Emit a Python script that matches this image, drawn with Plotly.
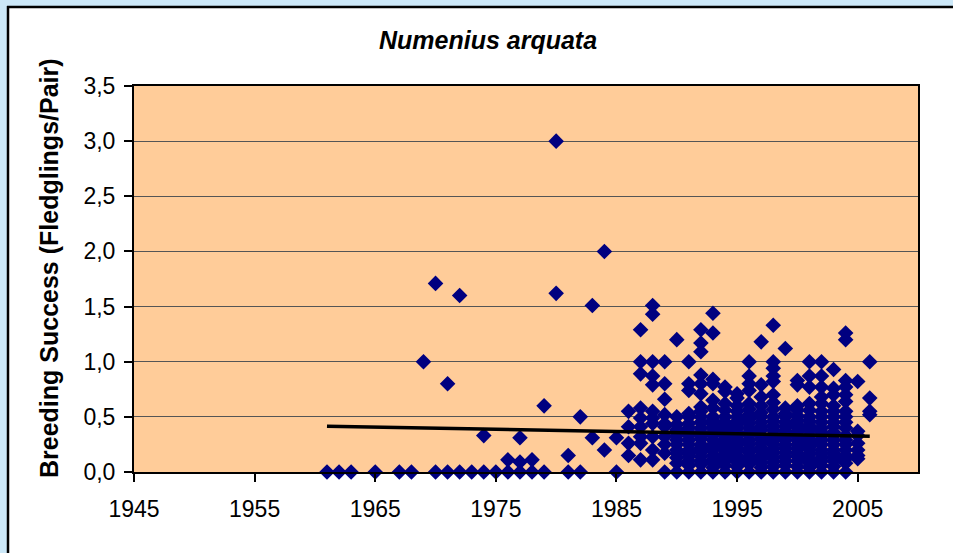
import plotly.graph_objects as go

# ---- data ----
obs_years = [1961, 1962, 1963, 1965, 1967, 1968, 1969, 1970, 1971, 1972,
             1973, 1974, 1975, 1976, 1977, 1978, 1979, 1980, 1981, 1982,
             1983, 1984, 1985, 1986, 1987, 1988, 1989, 1990, 1991, 1992,
             1993, 1994, 1995, 1996, 1997, 1998, 1999, 2000, 2001, 2002,
             2003, 2004, 2005, 2006]

success_by_year = [
    [0.0],                      # 1961
    [0.0],                      # 1962
    [0.0],                      # 1963
    [0.0],                      # 1965
    [0.0],                      # 1967
    [0.0],                      # 1968
    [1.0],                      # 1969
    [0.0, 1.71],                # 1970
    [0.0, 0.80],                # 1971
    [0.0, 1.60],                # 1972
    [0.0],                      # 1973
    [0.0, 0.33],                # 1974
    [0.0],                      # 1975
    [0.0, 0.11],                # 1976
    [0.0, 0.09, 0.31],          # 1977
    [0.0, 0.11],                # 1978
    [0.0, 0.60],                # 1979
    [1.62, 3.0],                # 1980
    [0.0, 0.15],                # 1981
    [0.0, 0.50],                # 1982
    [0.31, 1.51],               # 1983
    [0.20, 2.0],                # 1984
    [0.0, 0.31],                # 1985
    [0.55, 0.41, 0.26, 0.15],   # 1986
    [1.29, 1.0, 0.89, 0.58, 0.49, 0.41, 0.32, 0.26, 0.11],          # 1987
    [1.51, 1.43, 1.0, 0.87, 0.79, 0.55, 0.49, 0.44, 0.32, 0.2, 0.11],  # 1988
    [1.0, 0.80, 0.66, 0.52, 0.44, 0.41, 0.32, 0.25, 0.17, 0.0],     # 1989
    [1.2, 0.5, 0.43, 0.38, 0.33, 0.29, 0.25, 0.2, 0.17, 0.13, 0.08, 0.0],  # 1990
    [1.0, 0.8, 0.74, 0.53, 0.5, 0.44, 0.4, 0.36, 0.33, 0.29, 0.25, 0.2,
     0.17, 0.14, 0.1, 0.06, 0.0],                                    # 1991
    [1.29, 1.17, 1.09, 0.88, 0.8, 0.71, 0.59, 0.55, 0.5, 0.45, 0.4, 0.36,
     0.33, 0.3, 0.25, 0.22, 0.18, 0.14, 0.1, 0.07, 0.0],             # 1992
    [1.44, 1.26, 0.84, 0.8, 0.65, 0.58, 0.5, 0.47, 0.43, 0.4, 0.36, 0.33,
     0.29, 0.25, 0.22, 0.2, 0.15, 0.11, 0.08, 0.04, 0.0],            # 1993
    [0.77, 0.73, 0.62, 0.56, 0.5, 0.45, 0.42, 0.38, 0.33, 0.3, 0.27, 0.23,
     0.2, 0.17, 0.13, 0.1, 0.06, 0.0],                               # 1994
    [0.71, 0.67, 0.6, 0.55, 0.5, 0.46, 0.43, 0.4, 0.36, 0.33, 0.3, 0.27,
     0.25, 0.22, 0.19, 0.15, 0.12, 0.09, 0.05, 0.0],                 # 1995
    [1.0, 0.87, 0.8, 0.74, 0.62, 0.57, 0.52, 0.48, 0.44, 0.4, 0.36, 0.33,
     0.29, 0.25, 0.21, 0.18, 0.14, 0.1, 0.07, 0.0],                  # 1996
    [1.18, 0.79, 0.68, 0.6, 0.54, 0.5, 0.45, 0.41, 0.38, 0.33, 0.3, 0.26,
     0.22, 0.19, 0.15, 0.12, 0.08, 0.04, 0.0],                       # 1997
    [1.33, 1.0, 0.94, 0.87, 0.82, 0.7, 0.63, 0.57, 0.5, 0.46, 0.42, 0.38,
     0.34, 0.31, 0.28, 0.25, 0.21, 0.17, 0.13, 0.09, 0.05, 0.0],     # 1998
    [1.12, 0.58, 0.53, 0.5, 0.45, 0.41, 0.37, 0.33, 0.29, 0.25, 0.22, 0.18,
     0.14, 0.1, 0.06, 0.0],                                          # 1999
    [0.83, 0.79, 0.6, 0.56, 0.51, 0.47, 0.43, 0.4, 0.36, 0.32, 0.29, 0.25,
     0.21, 0.17, 0.14, 0.1, 0.05, 0.0],                              # 2000
    [1.0, 0.87, 0.77, 0.62, 0.56, 0.5, 0.46, 0.42, 0.38, 0.33, 0.3, 0.27,
     0.23, 0.2, 0.16, 0.12, 0.08, 0.04, 0.0],                        # 2001
    [1.0, 0.87, 0.77, 0.68, 0.62, 0.55, 0.5, 0.45, 0.4, 0.36, 0.33, 0.29,
     0.25, 0.2, 0.17, 0.13, 0.1, 0.06, 0.0],                         # 2002
    [0.93, 0.76, 0.7, 0.6, 0.55, 0.5, 0.45, 0.41, 0.36, 0.33, 0.29, 0.25,
     0.2, 0.17, 0.14, 0.1, 0.05, 0.0],                               # 2003
    [1.26, 1.2, 0.83, 0.77, 0.7, 0.64, 0.55, 0.5, 0.45, 0.4, 0.33, 0.29,
     0.25, 0.2, 0.15, 0.12, 0.08, 0.0],                              # 2004
    [0.82, 0.37, 0.33, 0.26, 0.2, 0.15, 0.12],                       # 2005
    [1.0, 0.67, 0.55, 0.52],                                         # 2006
]

trend_years = [1961, 2006]
trend_values = [0.415, 0.325]

x_tick_values = [1945, 1955, 1965, 1975, 1985, 1995, 2005]
y_tick_values = [0.0, 0.5, 1.0, 1.5, 2.0, 2.5, 3.0, 3.5]

title_text = "Numenius arquata"
y_title_text = "Breeding Success (Fledglings/Pair)"

# ---- flatten ----
xs, ys = [], []
for yr, vals in zip(obs_years, success_by_year):
    for v in vals:
        xs.append(yr)
        ys.append(v)

# ---- layout geometry (pixels) ----
W, H = 953, 553
L, R, T, B = 134, 918, 86, 472
pw, ph = R - L, B - T


def px(xpix):
    return (xpix - L) / pw


def py(ypix):
    return (B - ypix) / ph


FONT = "Liberation Sans, Arial, sans-serif"
FRAME_BLUE = "#CCE8F8"

fig = go.Figure()
fig.add_trace(go.Scatter(
    x=xs, y=ys, mode="markers",
    marker=dict(symbol="diamond", size=12, color="#000080",
                line=dict(width=0)),
    showlegend=False, cliponaxis=False,
))
fig.add_trace(go.Scatter(
    x=trend_years, y=trend_values, mode="lines",
    line=dict(color="black", width=3.5),
    showlegend=False,
))

fig.update_layout(
    width=W, height=H, autosize=False,
    margin=dict(l=L, r=W - R, t=T, b=H - B, pad=0),
    paper_bgcolor="white",
    plot_bgcolor="#FFCC99",
    separators=",.",
    font=dict(family=FONT, color="black", size=23),
    xaxis=dict(
        range=[1945, 2010], tickvals=x_tick_values,
        showgrid=False, zeroline=False, automargin=False,
        showline=True, linecolor="black", linewidth=2, mirror=True,
        ticks="outside", ticklen=8, tickwidth=2, tickcolor="black",
        tickfont=dict(size=23, family=FONT),
        ticklabelstandoff=7,
    ),
    yaxis=dict(
        range=[0, 3.5], tickvals=y_tick_values, tickformat=".1f",
        showgrid=True, gridcolor="#555555", gridwidth=1,
        zeroline=False, automargin=False,
        showline=True, linecolor="black", linewidth=2, mirror=True,
        ticks="outside", ticklen=8, tickwidth=2, tickcolor="black",
        tickfont=dict(size=23, family=FONT),
        ticklabelstandoff=4,
    ),
    shapes=[
        # light-blue frame strips (top and left)
        dict(type="rect", xref="paper", yref="paper",
             x0=px(-5), x1=px(960), y0=py(6), y1=py(-5),
             fillcolor=FRAME_BLUE, line=dict(width=0), layer="below"),
        dict(type="rect", xref="paper", yref="paper",
             x0=px(-5), x1=px(7), y0=py(560), y1=py(-5),
             fillcolor=FRAME_BLUE, line=dict(width=0), layer="below"),
        # black border of the white chart area
        dict(type="line", xref="paper", yref="paper",
             x0=px(7), x1=px(960), y0=py(7), y1=py(7),
             line=dict(color="black", width=2.5)),
        dict(type="line", xref="paper", yref="paper",
             x0=px(8), x1=px(8), y0=py(6), y1=py(560),
             line=dict(color="black", width=2.5)),
    ],
    annotations=[
        dict(text=title_text, xref="paper", yref="paper",
             x=px(488), y=py(40), xanchor="center", yanchor="middle",
             showarrow=False,
             font=dict(size=25, family=FONT, color="black",
                       weight="bold", style="italic")),
        dict(text="<b>" + y_title_text + "</b>", xref="paper", yref="paper",
             x=px(49), y=py(268), xanchor="center", yanchor="middle",
             textangle=-90, showarrow=False,
             font=dict(size=25, family=FONT, color="black")),
    ],
)

fig.write_html(
    "out.html",
    config={"displayModeBar": False},
    post_script="document.body.style.margin='0';"
                "document.body.style.overflow='hidden';",
)
